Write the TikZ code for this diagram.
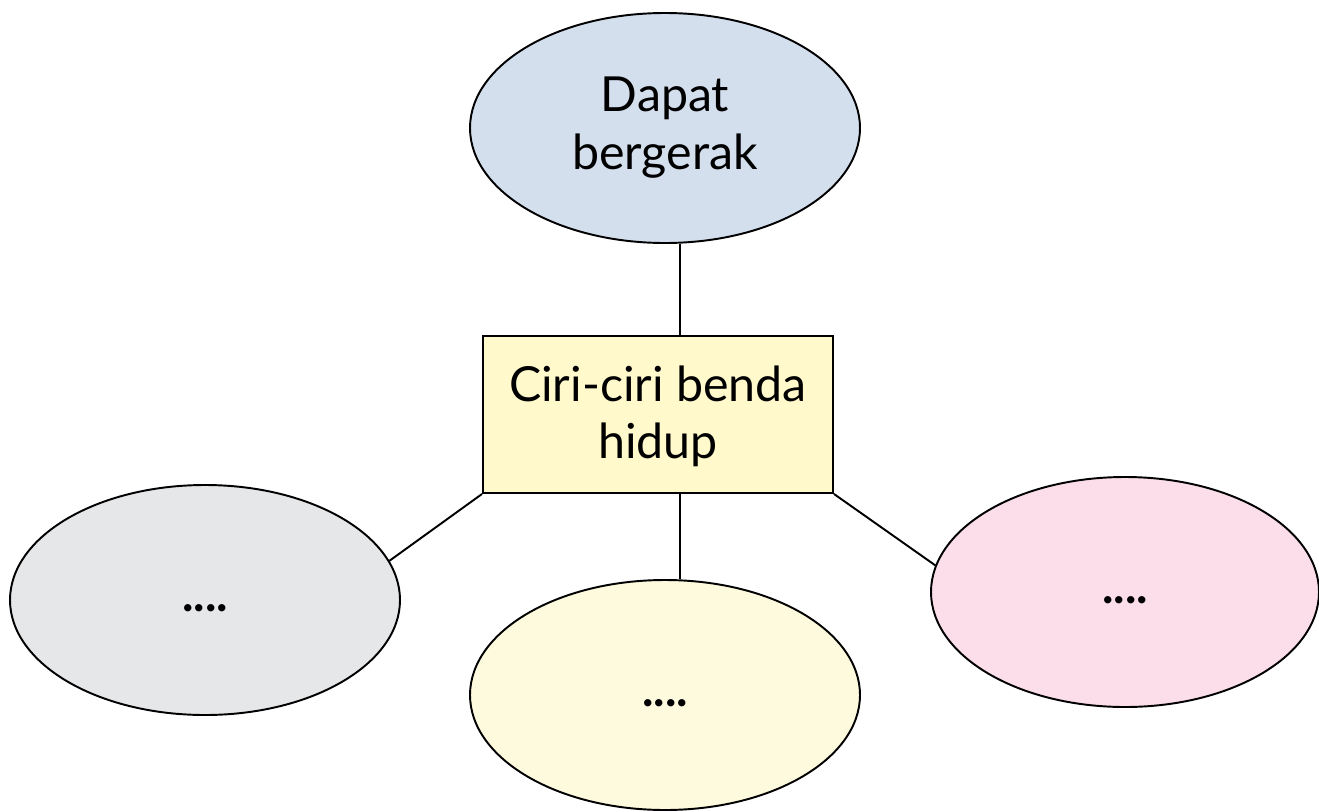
\documentclass[tikz,border=0pt]{standalone}
\usepackage{fontspec}
\setmainfont{Lato}
\usetikzlibrary{shapes.geometric}
\definecolor{blueish}{HTML}{D4DFEE}
\definecolor{boxyellow}{HTML}{FFF9CC}
\definecolor{greyish}{HTML}{E6E7E9}
\definecolor{paleyellow}{HTML}{FEFADE}
\definecolor{pinkish}{HTML}{FBDEEA}
\newcommand{\blank}{\strut\textbf{....}}

\begin{document}
\begin{tikzpicture}[
		bubble/.style={ellipse, draw, line width=1.1pt, minimum width=7.8cm, minimum height=4.6cm, inner sep=0pt, align=center, font=\fontsize{27.5}{33}\selectfont},
		link/.style={line width=1.1pt}
	]
		\useasboundingbox (0, 0) rectangle (26.38, -16.22);

		\node[bubble, fill=blueish] (top) at (13.3, -2.56) {Dapat\\bergerak};
		\node[draw, line width=1.1pt, fill=boxyellow, minimum width=7cm, minimum height=3.14cm, align=center, font=\fontsize{27.5}{32}\selectfont] (box) at (13.16, -8.29) {\strut Ciri-ciri benda\\hidup};
		\node[bubble, fill=greyish] (left) at (4.1, -12.0) {\blank};
		\node[bubble, fill=paleyellow] (bottom) at (13.3, -13.9) {\blank};
		\node[bubble, fill=pinkish, minimum width=7.76cm] (right) at (22.5, -11.84) {\blank};

		\draw[link] ([xshift=0.44cm]box.north) -- ([xshift=0.44cm]box.north |- top.south);
		\draw[link] ([xshift=0.44cm]box.south) -- ([xshift=0.44cm]box.south |- bottom.north);
		\draw[link] (box.south west) -- (left.12);
		\draw[link] (box.south east) -- (right.172);
	\end{tikzpicture}
\end{document}
